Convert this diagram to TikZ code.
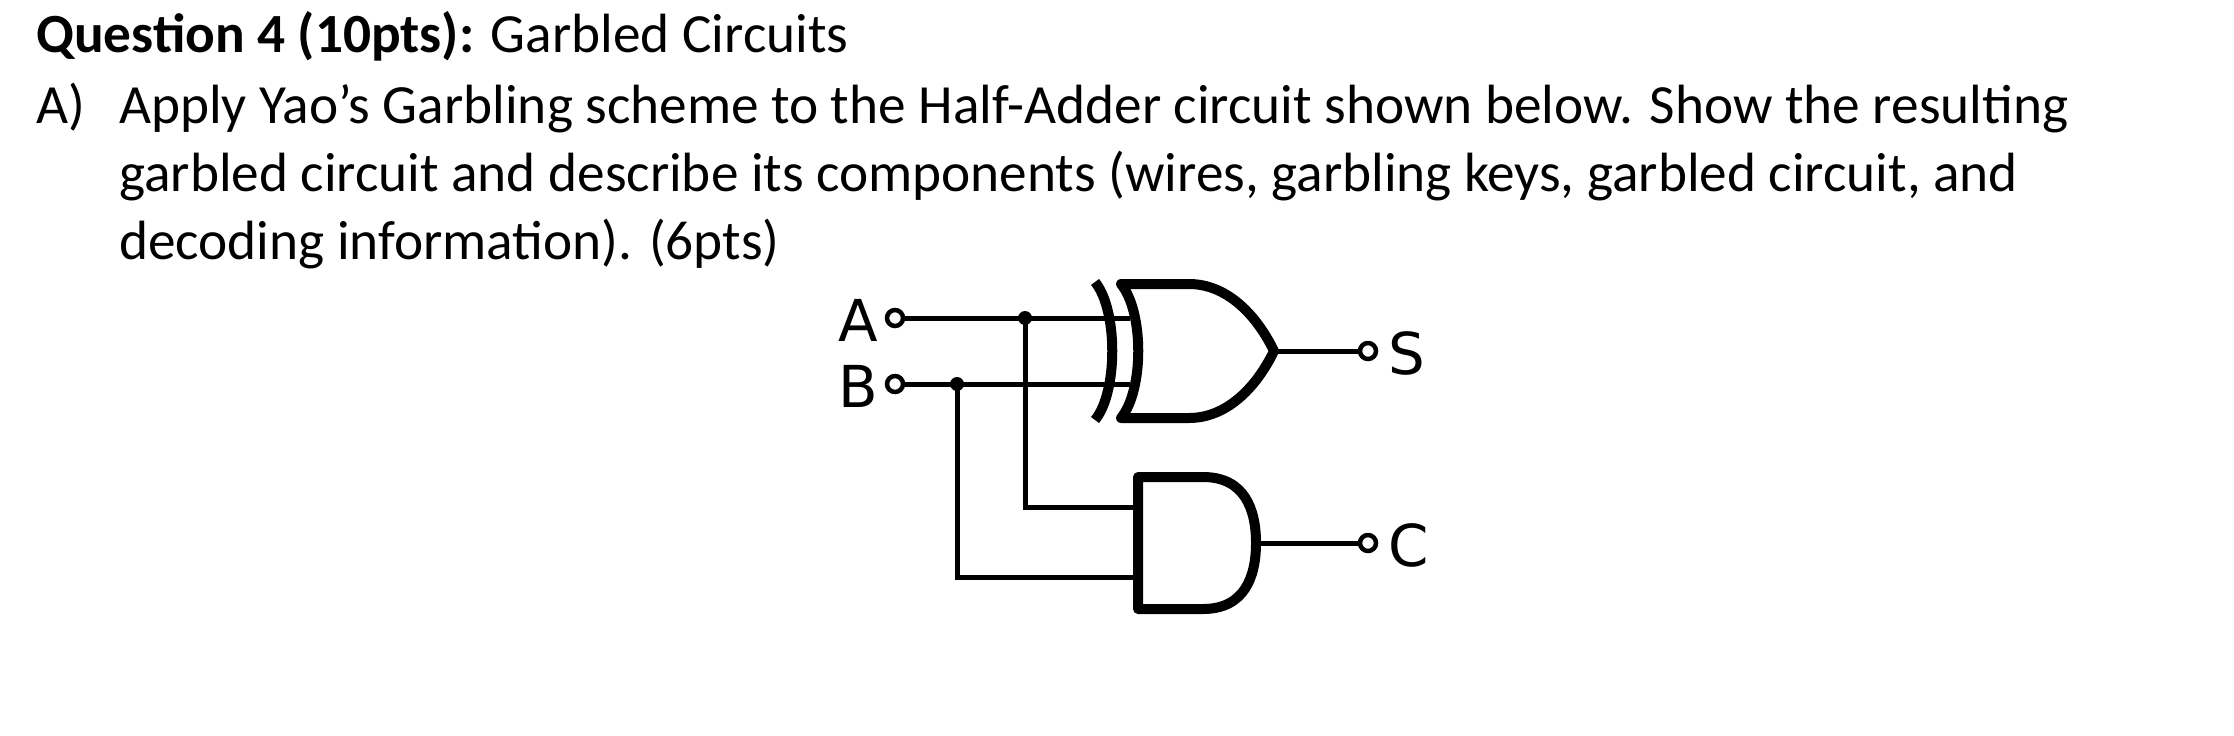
\documentclass[tikz,border=0pt]{standalone}
\usepackage{fontspec}
\setmainfont{Carlito}
\newfontfamily\lblfont{DejaVu Sans}
\begin{document}
\begin{tikzpicture}[x=1bp,y=-1bp,
  txt/.style={anchor=base west,inner sep=0pt,font=\fontsize{55.5}{60}\selectfont},
  lbl/.style={inner sep=0pt,font=\lblfont\fontsize{58}{60}\selectfont},
  wire/.style={line width=5bp},
  gate/.style={line width=10bp,line join=round},
  term/.style={circle,draw,line width=4.5bp,fill=white,minimum size=16bp,inner sep=0pt},
  dot/.style={circle,fill,minimum size=14bp,inner sep=0pt}]
\useasboundingbox (0,0) rectangle (2234,736);
\node[txt] (t1) at (36,53) {\textbf{Question 4 (10pts):} Garbled Circuits};
\node[txt] (t2a) at (36,123) {A)};
\node[txt] (t2) at (119,123) {Apply Yao’s Garbling scheme to the Half-Adder circuit shown below. Show the resulting};
\node[txt] (t3) at (119,191) {garbled circuit and describe its components (wires, garbling keys, garbled circuit, and};
\node[txt] (t4) at (119,259) {decoding information). (6pts)};
% terminals
\node[term] (ta) at (895,318) {};
\node[term] (tb) at (895,384) {};
\node[term] (ts) at (1368,351) {};
\node[term] (tc) at (1368,543) {};
\node[lbl,anchor=east] (la) at (878,320) {A};
\node[lbl,anchor=east] (lb) at (878,386) {B};
\node[lbl,anchor=west] (ls) at (1388,353) {S};
\node[lbl,anchor=west] (lc) at (1388,545) {C};
\coordinate (ja) at (1025,318);
\coordinate (jb) at (957,384);
\coordinate (xa) at (1130,318);
\coordinate (xb) at (1130,384);
\coordinate (xo) at (1274,351);
\coordinate (aa) at (1138,507);
\coordinate (ab) at (1138,577);
\coordinate (ao) at (1256,543);
% wires
\draw[wire] (ta) -- (xa);
\draw[wire] (tb) -- (xb);
\draw[wire] (ja) |- (aa);
\draw[wire] (jb) |- (ab);
\draw[wire] (xo) -- (ts);
\draw[wire] (ao) -- (tc);
\node[dot] (da) at (ja) {};
\node[dot] (db) at (jb) {};
% XOR gate
\draw[gate] (1095,282) .. controls (1118,310) and (1118,392) .. (1095,420);
\draw[gate,fill=white] (1121,284) .. controls (1144,312) and (1144,390) .. (1121,418)
  -- (1189,418) .. controls (1225,418) and (1255,390) .. (xo)
  .. controls (1255,312) and (1225,284) .. (1189,284) -- cycle;
% AND gate
\draw[gate,fill=white] (1203,477) -- (1138,477) -- (1138,609) -- (1203,609)
  .. controls (1245,609) and (1256,576) .. (ao)
  .. controls (1256,510) and (1245,477) .. cycle;
\end{tikzpicture}
\end{document}
